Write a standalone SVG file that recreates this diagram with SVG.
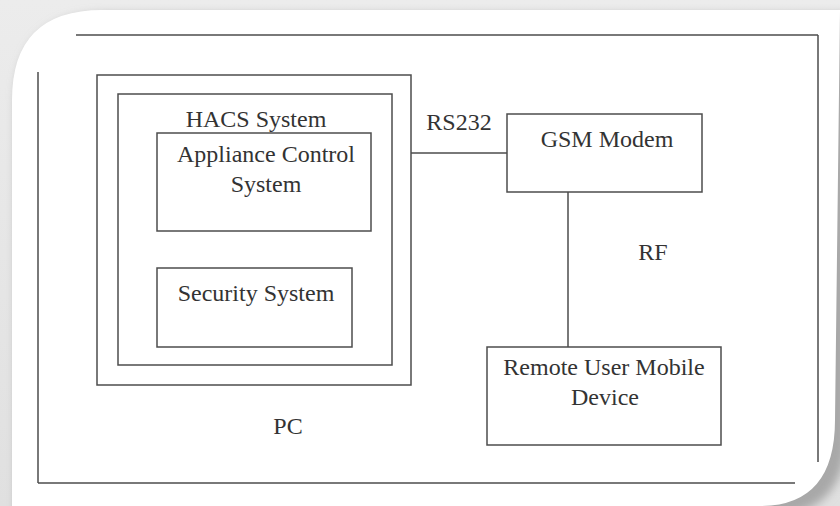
<svg xmlns="http://www.w3.org/2000/svg" width="840" height="506" viewBox="0 0 840 506">
  <style>
    .box { fill: none; stroke: #4d4d4d; stroke-width: 1.5; }
    .ln { fill: none; stroke: #4d4d4d; stroke-width: 1.5; }
    .t { font-family: "Liberation Serif", "Times New Roman", serif; font-size: 24px; fill: #333; text-anchor: middle; }
  </style>
  <defs>
    <linearGradient id="bg" x1="0" y1="0" x2="0" y2="1">
      <stop offset="0" stop-color="#ececec"/>
      <stop offset="1" stop-color="#e0e0e0"/>
    </linearGradient>
    <filter id="sh" x="-5%" y="-5%" width="110%" height="110%">
      <feGaussianBlur stdDeviation="5"/>
    </filter>
  </defs>

  <rect x="0" y="0" width="840" height="506" fill="url(#bg)"/>
  <path d="M 16 104 Q 16 14 106 14 L 848 14 L 848 426 Q 848 516 770 516 L 16 516 Z" fill="#a8a8a8" filter="url(#sh)"/>
  <path id="card" d="M 12 100 Q 12 10 102 10 L 840 10 L 835 420 Q 835 506 760 506 L 12 506 Z" fill="#ffffff"/>

  <g id="frame">
    <line class="ln" x1="76" y1="35" x2="818" y2="35"/>
    <line class="ln" x1="818" y1="35" x2="818" y2="462"/>
    <line class="ln" x1="38" y1="483" x2="795" y2="483"/>
    <line class="ln" x1="38" y1="72" x2="38" y2="483"/>
  </g>

  <g id="pc">
    <rect class="box" x="97" y="75" width="314" height="310"/>
    <text class="t" x="288" y="434">PC</text>
  </g>

  <g id="hacs">
    <rect class="box" x="118" y="94" width="274" height="271"/>
    <text class="t" x="256" y="127">HACS System</text>
  </g>

  <g id="appliance">
    <rect class="box" x="157" y="133" width="214" height="98"/>
    <text class="t" x="266" y="162">Appliance Control</text>
    <text class="t" x="266" y="192">System</text>
  </g>

  <g id="security">
    <rect class="box" x="157" y="268" width="195" height="79"/>
    <text class="t" x="256" y="301">Security System</text>
  </g>

  <g id="gsm">
    <rect class="box" x="507" y="114" width="195" height="78"/>
    <text class="t" x="607" y="147">GSM Modem</text>
  </g>

  <g id="remote">
    <rect class="box" x="487" y="347" width="234" height="98"/>
    <text class="t" x="604" y="375">Remote User Mobile</text>
    <text class="t" x="605" y="405">Device</text>
  </g>

  <g id="connectors">
    <line class="ln" x1="411" y1="153" x2="507" y2="153"/>
    <text class="t" x="459" y="130">RS232</text>
    <line class="ln" x1="568" y1="192" x2="568" y2="347"/>
    <text class="t" x="653" y="260">RF</text>
  </g>
</svg>
